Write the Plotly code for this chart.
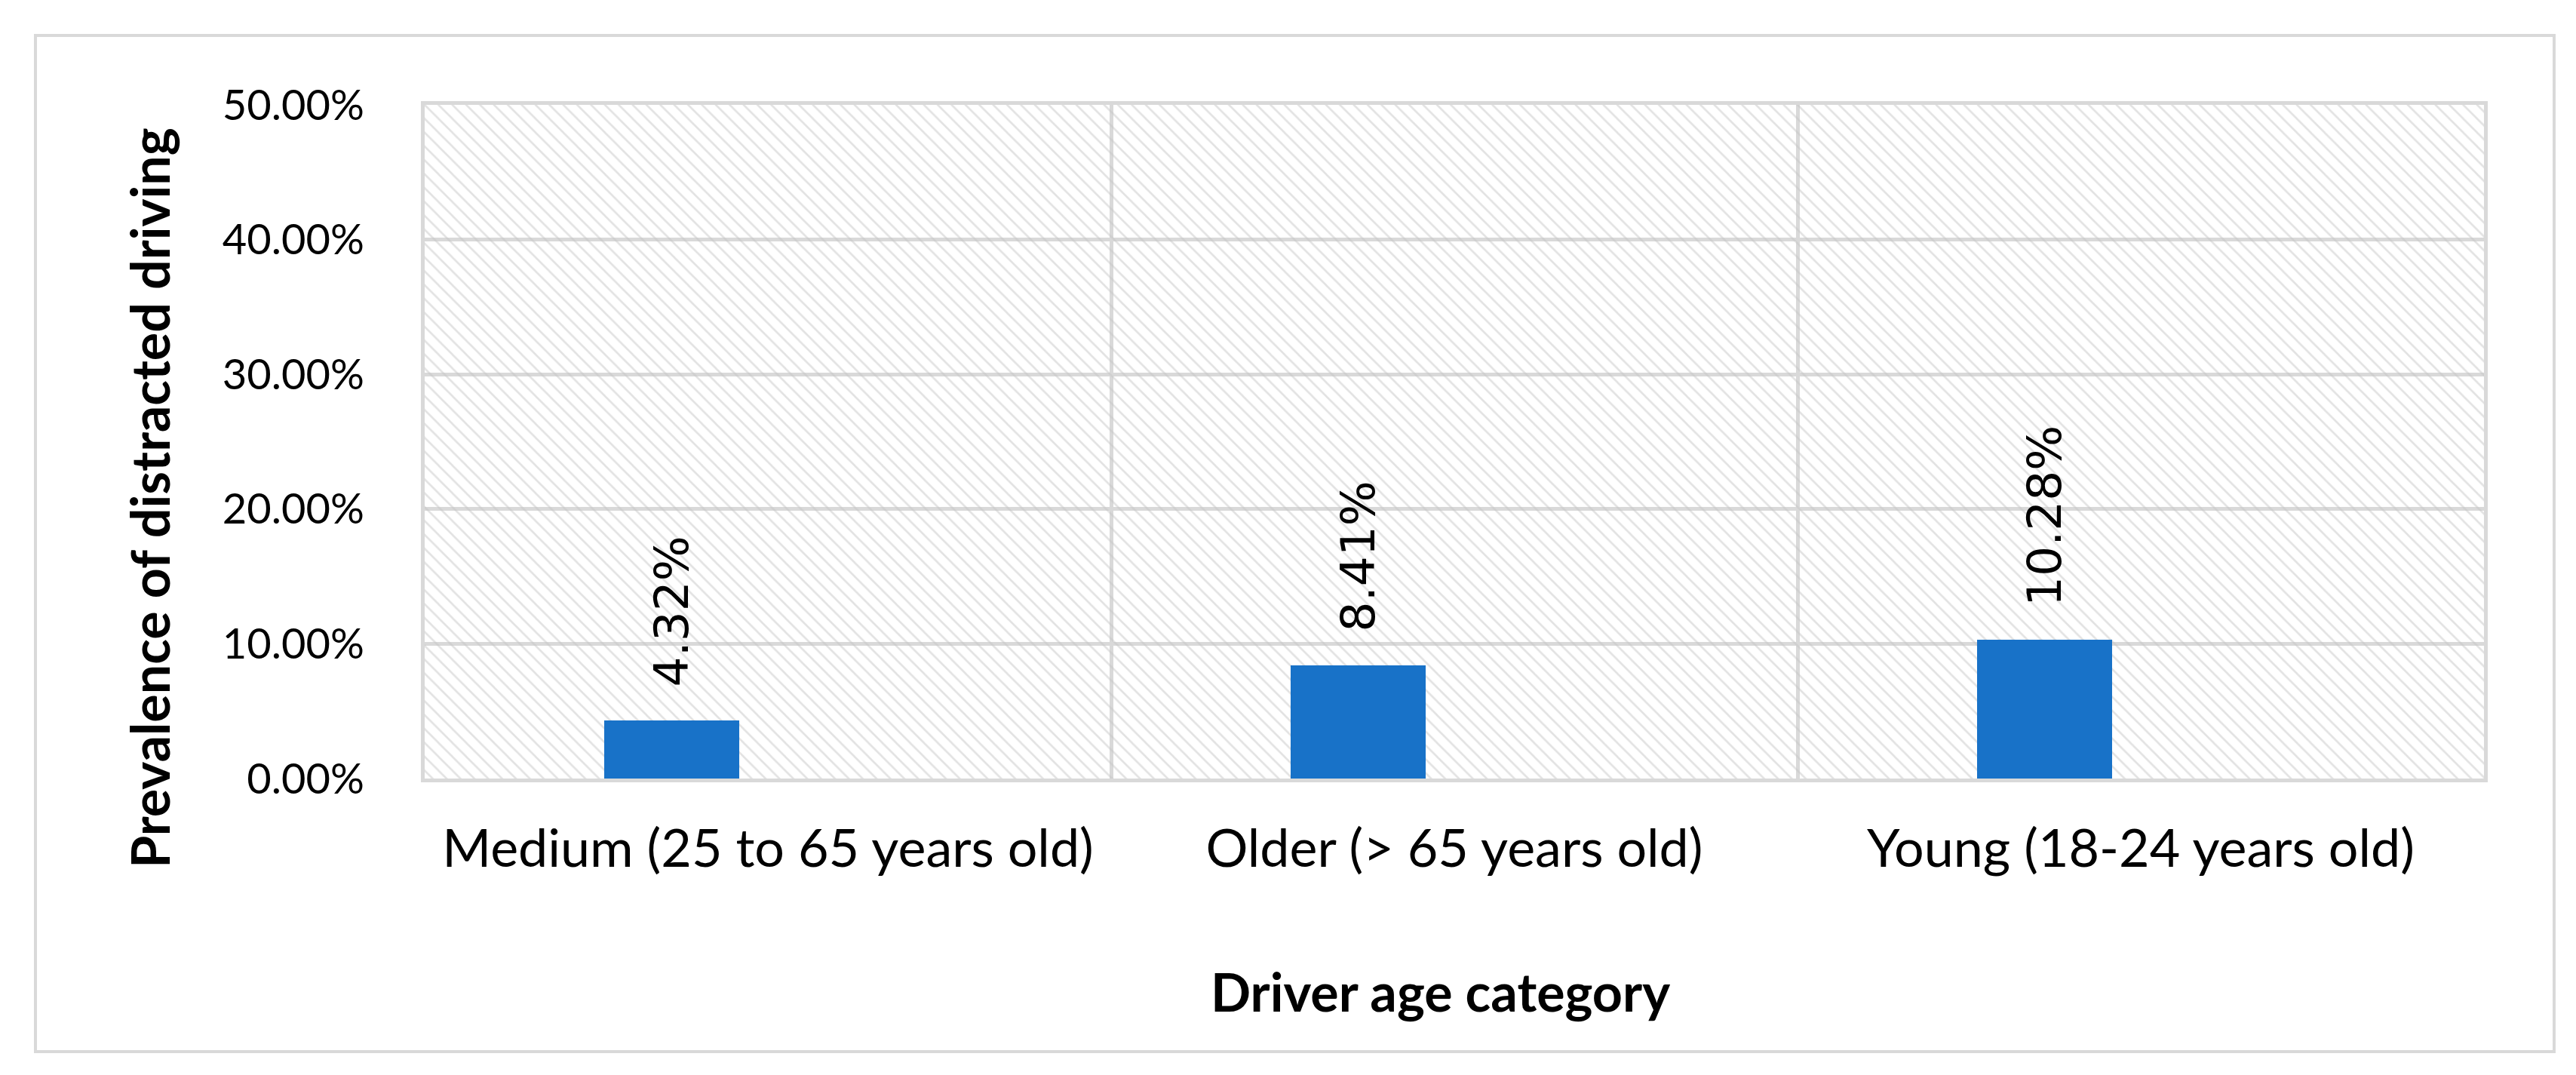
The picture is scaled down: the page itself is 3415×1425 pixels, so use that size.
import plotly.graph_objects as go

# ---- data ----
categories = ["Medium (25 to 65 years old)", "Older (> 65 years old)", "Young (18-24 years old)"]
prevalence = [4.32, 8.41, 10.28]
y_ticks = [0, 10, 20, 30, 40, 50]
y_tick_labels = ["0.00%", "10.00%", "20.00%", "30.00%", "40.00%", "50.00%"]
x_title = "Driver age category"
y_title = "Prevalence of distracted driving"

# ---- style / geometry ----
W, H = 3415, 1425
ML, MR, MT, MB = 555, 130, 131, 401
PW, PH = W - ML - MR, H - MT - MB
BAR_OFFSET = -0.238
BAR_WIDTH = 0.196
BAR_COLOR = "#1872C8"
GRID = "#d9d9d9"
TICK_FONT = "Lato, sans-serif"
TITLE_FONT = "Lato, sans-serif"
LABEL_FONT = "DejaVu Sans, sans-serif"
Y_MAX = y_ticks[-1]

def px_to_paper_x(px):
    return (px - ML) / PW

def px_to_paper_y(py):
    return (H - MB - py) / PH

fig = go.Figure()

# hatched plot-area background
fig.add_trace(go.Bar(
    x=categories, y=[Y_MAX] * len(categories), width=1, offset=-0.5,
    marker=dict(color="rgba(0,0,0,0)", line=dict(width=0),
                pattern=dict(shape="\\", size=13, solidity=0.2,
                             fgcolor="#c6c6c6", bgcolor="rgba(0,0,0,0)")),
    hoverinfo="skip", showlegend=False,
))

# data bars
fig.add_trace(go.Bar(
    x=categories, y=prevalence, width=BAR_WIDTH, offset=BAR_OFFSET,
    marker=dict(color=BAR_COLOR, line=dict(width=0)),
    showlegend=False,
))

# rotated value labels
for i, v in enumerate(prevalence):
    fig.add_annotation(
        x=i + BAR_OFFSET + BAR_WIDTH / 2, y=v, xref="x", yref="y",
        text=f"{v:.2f}%", textangle=-90, showarrow=False,
        xanchor="center", yanchor="bottom", yshift=42,
        font=dict(family=LABEL_FONT, size=63, color="#000000"),
    )

# axis titles
fig.add_annotation(
    x=px_to_paper_x(1901), y=px_to_paper_y(1306), xref="paper", yref="paper",
    text=f"<b>{x_title}</b>", showarrow=False, xanchor="center", yanchor="middle",
    font=dict(family=TITLE_FONT, size=70, color="#000000"),
)
fig.add_annotation(
    x=px_to_paper_x(190), y=px_to_paper_y(652), xref="paper", yref="paper",
    text=f"<b>{y_title}</b>", showarrow=False, textangle=-90,
    xanchor="center", yanchor="middle",
    font=dict(family=TITLE_FONT, size=70, color="#000000"),
)

# outer chart border
fig.add_shape(
    type="rect", xref="paper", yref="paper",
    x0=px_to_paper_x(39), x1=px_to_paper_x(3378),
    y0=px_to_paper_y(1386), y1=px_to_paper_y(39),
    line=dict(color=GRID, width=4), fillcolor="rgba(0,0,0,0)", layer="below",
)

fig.update_layout(
    width=W, height=H,
    margin=dict(l=ML, r=MR, t=MT, b=MB),
    paper_bgcolor="white", plot_bgcolor="white",
    barmode="overlay", bargap=0,
    showlegend=False,
)
fig.update_xaxes(
    type="category", categoryorder="array", categoryarray=categories,
    range=[-0.5, len(categories) - 0.5],
    tickson="boundaries", showgrid=True, gridcolor=GRID, gridwidth=5,
    showline=True, linecolor=GRID, linewidth=5, mirror=True,
    ticks="", ticklabelstandoff=28,
    tickfont=dict(family=TICK_FONT, size=70, color="#000000"),
)
fig.update_yaxes(
    range=[0, Y_MAX], tickvals=y_ticks, ticktext=y_tick_labels,
    showgrid=True, gridcolor=GRID, gridwidth=5,
    zeroline=False,
    showline=True, linecolor=GRID, linewidth=5, mirror=True,
    ticks="", ticklabelstandoff=64,
    tickfont=dict(family=TICK_FONT, size=56, color="#000000"),
)

fig.write_html("out.html")
